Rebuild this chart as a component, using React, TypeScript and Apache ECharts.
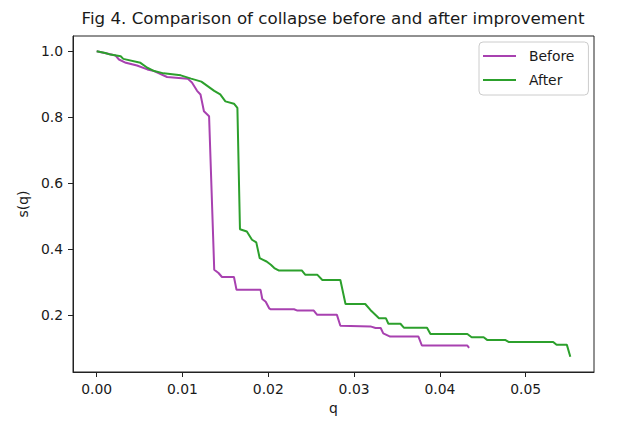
import React, { useEffect, useRef } from "react";
import * as echarts from "echarts";

const titleText = "Fig 4. Comparison of collapse before and after improvement";
const xName = "q";
const yName = "s(q)";
const xTicks = [0, 0.01, 0.02, 0.03, 0.04, 0.05];
const yTicks = [0.2, 0.4, 0.6, 0.8, 1.0];

const qBefore = [0, 0.0012, 0.0022, 0.0026, 0.0034, 0.0047, 0.0059, 0.0067, 0.0082, 0.0106, 0.0111, 0.0117, 0.0121, 0.0125, 0.0131, 0.0137, 0.0142, 0.0146, 0.016, 0.0163, 0.0191, 0.0193, 0.0197, 0.0201, 0.0203, 0.023, 0.0234, 0.0253, 0.0257, 0.028, 0.0284, 0.0319, 0.0325, 0.0331, 0.0334, 0.0342, 0.0375, 0.0379, 0.0432, 0.0434];
const sBefore = [1.0, 0.993, 0.987, 0.975, 0.965, 0.957, 0.945, 0.94, 0.922, 0.917, 0.905, 0.88, 0.869, 0.818, 0.803, 0.337, 0.327, 0.315, 0.315, 0.276, 0.276, 0.248, 0.24, 0.22, 0.217, 0.217, 0.213, 0.213, 0.2, 0.2, 0.167, 0.165, 0.16, 0.16, 0.144, 0.134, 0.134, 0.107, 0.107, 0.1];

const qAfter = [0, 0.001, 0.0016, 0.0028, 0.0031, 0.0051, 0.0059, 0.0067, 0.0078, 0.0098, 0.011, 0.0122, 0.0137, 0.0144, 0.015, 0.016, 0.0164, 0.0167, 0.0175, 0.0181, 0.0186, 0.019, 0.0194, 0.0198, 0.0203, 0.0207, 0.0212, 0.0239, 0.0243, 0.0257, 0.0263, 0.0284, 0.029, 0.0313, 0.0319, 0.0329, 0.0337, 0.034, 0.0354, 0.0358, 0.0385, 0.0389, 0.0432, 0.0437, 0.0451, 0.0455, 0.0476, 0.048, 0.0532, 0.0536, 0.0548, 0.0552];
const sAfter = [1.0, 0.995, 0.99, 0.985, 0.977, 0.965, 0.95, 0.94, 0.933, 0.927, 0.917, 0.908, 0.88, 0.869, 0.848, 0.841, 0.828, 0.46, 0.453, 0.428, 0.42, 0.372, 0.367, 0.362, 0.352, 0.342, 0.335, 0.335, 0.322, 0.322, 0.306, 0.306, 0.233, 0.233, 0.215, 0.19, 0.19, 0.173, 0.173, 0.161, 0.161, 0.142, 0.142, 0.132, 0.132, 0.124, 0.124, 0.118, 0.118, 0.109, 0.109, 0.073];

const FONT = "DejaVu Sans";
const TXT = "#1a1a1a";

export default function App() {
  const ref = useRef<HTMLDivElement>(null);
  useEffect(() => {
    if (!ref.current) return;
    const chart = echarts.init(ref.current, undefined, { renderer: "svg" });
    const before = qBefore.map((q, i) => [q, sBefore[i]]);
    const after = qAfter.map((q, i) => [q, sAfter[i]]);
    chart.setOption({
      animation: false,
      backgroundColor: "#ffffff",
      textStyle: { fontFamily: FONT },
      title: {
        text: titleText,
        left: 333,
        textAlign: "center",
        top: 9,
        padding: 0,
        textStyle: { fontFamily: FONT, fontSize: 16.7, fontWeight: "normal", color: TXT },
      },
      grid: {
        left: 73,
        right: 33,
        top: 36,
        bottom: 49,
        show: true,
        borderColor: "#222",
        borderWidth: 1,
        backgroundColor: "transparent",
      },
      legend: {
        orient: "vertical",
        left: 479,
        top: 42,
        padding: [7, 14, 8, 4],
        icon: "rect",
        itemWidth: 33,
        itemHeight: 2,
        itemGap: 10,
        borderColor: "#cccccc",
        borderWidth: 1,
        borderRadius: 4,
        backgroundColor: "#ffffff",
        textStyle: { fontFamily: FONT, fontSize: 13.9, color: TXT, padding: [0, 0, 0, 8] },
        data: ["Before", "After"],
      },
      xAxis: {
        type: "value",
        min: -0.00276,
        max: 0.05796,
        name: xName,
        nameLocation: "middle",
        nameGap: 28,
        nameTextStyle: { fontFamily: FONT, fontSize: 13.9, color: TXT },
        splitLine: { show: false },
        axisLine: { show: true, onZero: false, lineStyle: { color: "#222", width: 1 } },
        axisTick: { show: true, length: 5, lineStyle: { color: "#222" }, customValues: xTicks },
        axisLabel: {
          margin: 10,
          fontFamily: FONT,
          fontSize: 13.9,
          color: TXT,
          customValues: xTicks,
          formatter: (v: number) => v.toFixed(2),
        },
      },
      yAxis: {
        type: "value",
        min: 0.0266,
        max: 1.0464,
        name: yName,
        nameLocation: "middle",
        nameGap: 42,
        nameRotate: 90,
        nameTextStyle: { fontFamily: FONT, fontSize: 13.9, color: TXT },
        splitLine: { show: false },
        axisLine: { show: true, onZero: false, lineStyle: { color: "#222", width: 1 } },
        axisTick: { show: true, length: 5, lineStyle: { color: "#222" }, customValues: yTicks },
        axisLabel: {
          margin: 10,
          fontFamily: FONT,
          fontSize: 13.9,
          color: TXT,
          customValues: yTicks,
          formatter: (v: number) => v.toFixed(1),
        },
      },
      series: [
        {
          name: "Before",
          type: "line",
          data: before,
          symbol: "none",
          lineStyle: { color: "#a841b0", width: 2 },
          itemStyle: { color: "#a841b0" },
        },
        {
          name: "After",
          type: "line",
          data: after,
          symbol: "none",
          lineStyle: { color: "#2ca02c", width: 2 },
          itemStyle: { color: "#2ca02c" },
        },
      ],
    });
    return () => chart.dispose();
  }, []);
  return (
    <div
      ref={ref}
      style={{ position: "fixed", left: 0, top: 0, width: 627, height: 421, background: "#fff" }}
    />
  );
}
